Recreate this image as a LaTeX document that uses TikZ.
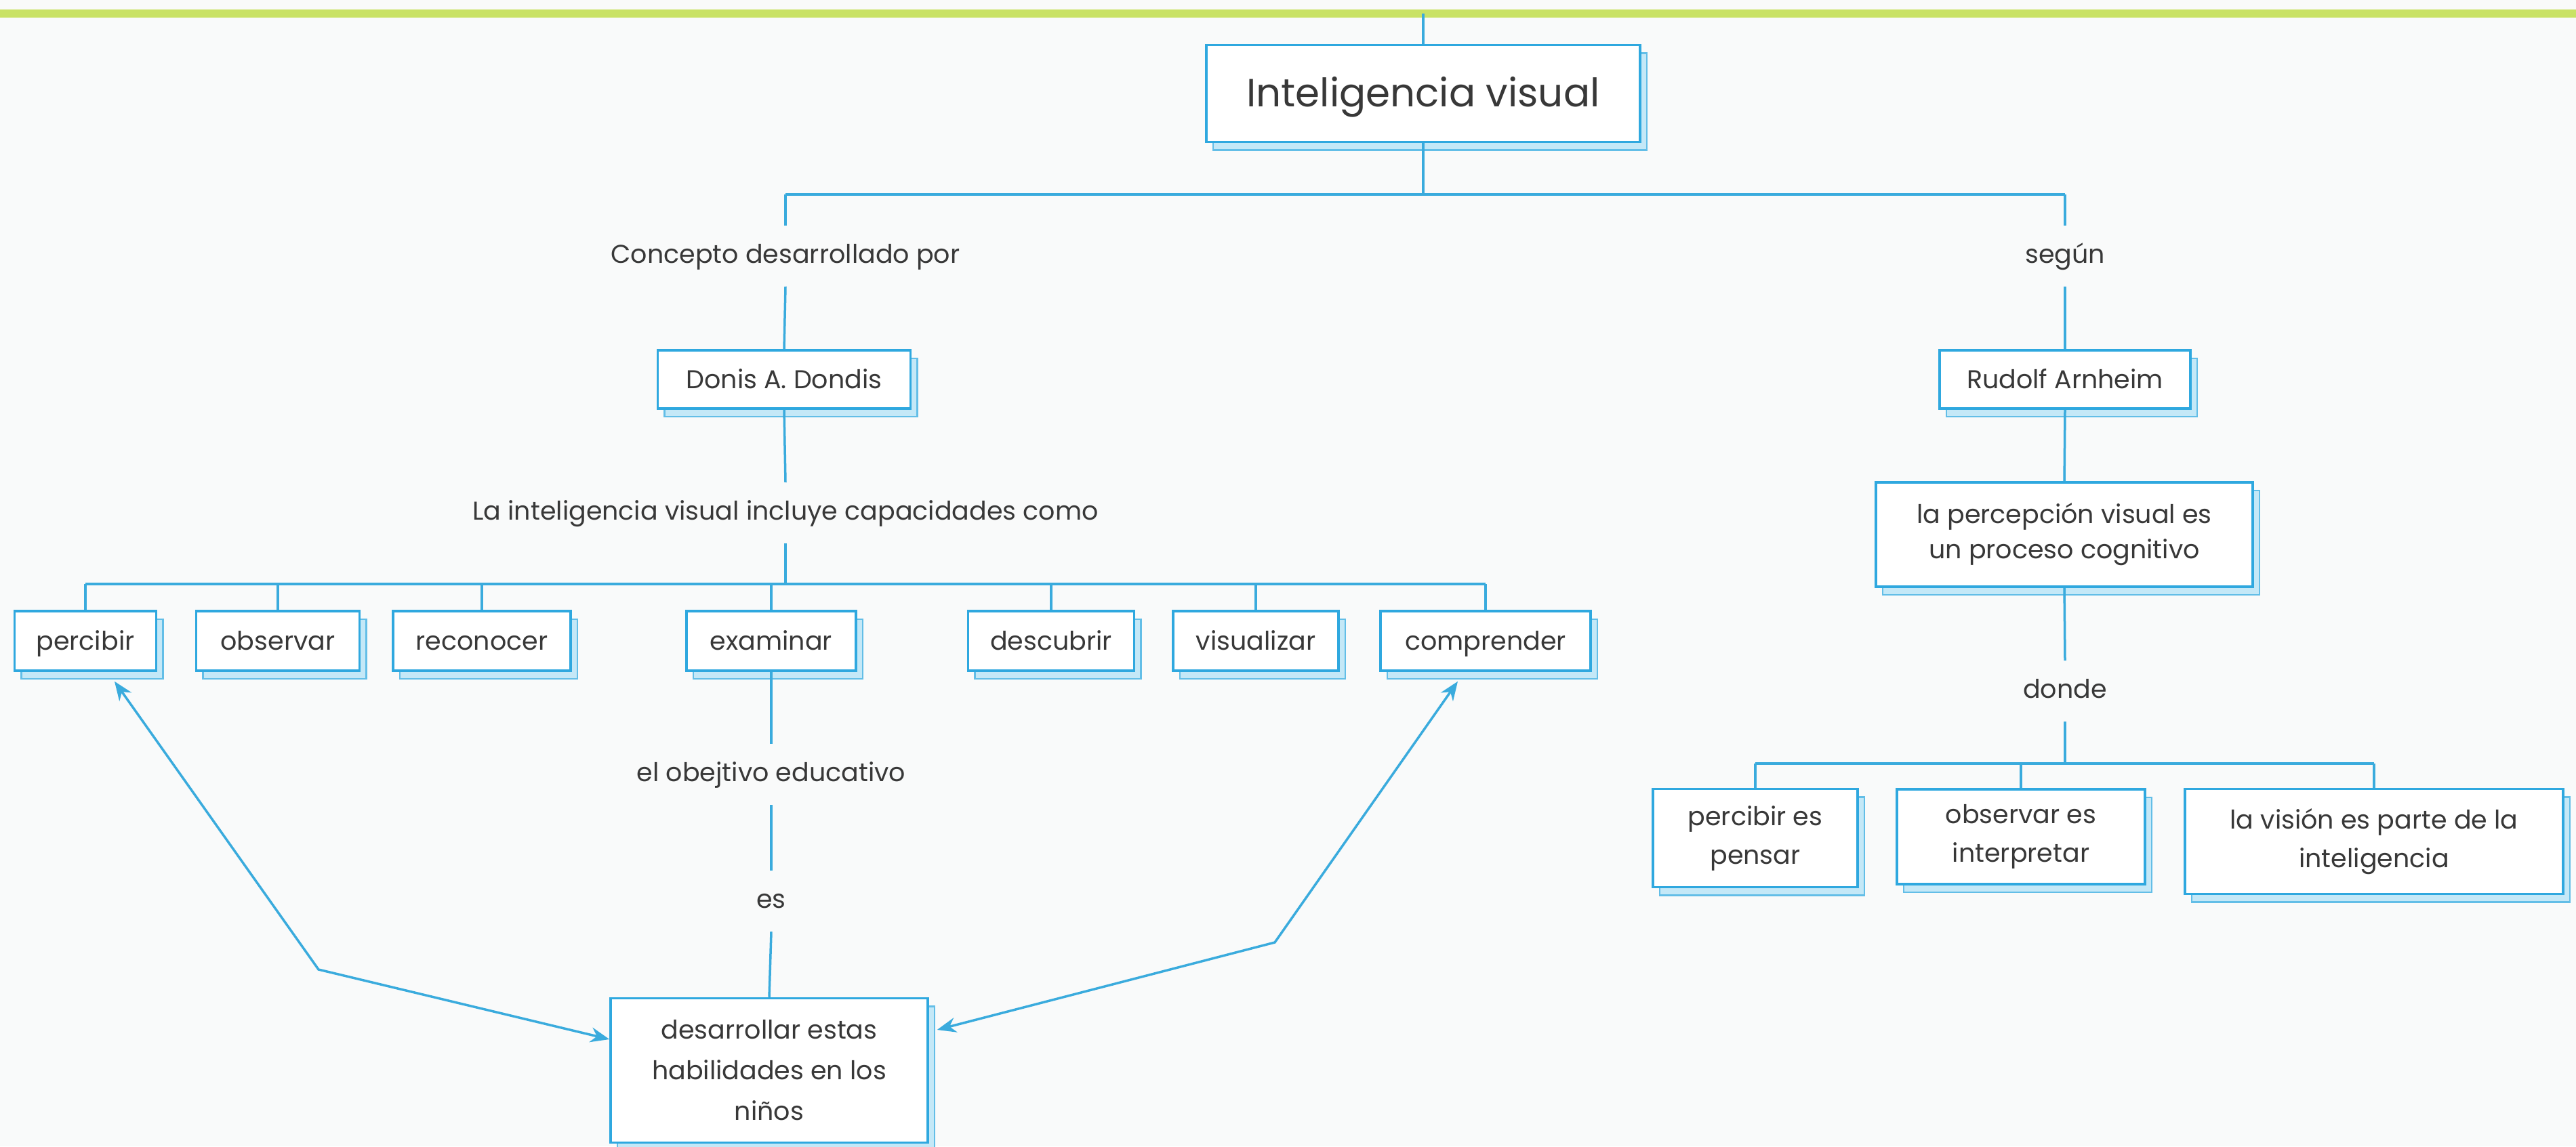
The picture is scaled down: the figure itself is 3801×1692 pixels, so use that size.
\documentclass[tikz,border=0pt]{standalone}
\usepackage{fontspec}
\setmainfont{Poppins}
\usetikzlibrary{arrows.meta,shadows,calc}
\definecolor{cBlue}{HTML}{2FA8DF}
\definecolor{cLine}{HTML}{3AABDD}
\definecolor{cShadow}{HTML}{C4E8F7}
\definecolor{cText}{HTML}{383838}
\definecolor{cBg}{HTML}{F9FAFA}
\definecolor{cGreen}{HTML}{C9E265}
\begin{document}
\begin{tikzpicture}[x=1pt,y=-1pt,
  box/.style={draw=cBlue, line width=3.5pt, fill=white, inner sep=0pt, align=center,
    text=cText, font=\fontsize{38}{57}\selectfont,
    copy shadow={shadow xshift=10pt, shadow yshift=-12pt, fill=cShadow, draw=cBlue!75, line width=2.5pt}},
  one/.style={text height=28pt, text depth=2pt},
  lbl/.style={text=cText, font=\fontsize{38}{46}\selectfont, inner xsep=6pt, inner ysep=27pt,
    text height=28pt, text depth=8pt},
  con/.style={draw=cLine, line width=3.5pt},
  arr/.style={con, {Stealth[length=28pt,width=22pt]}-{Stealth[length=28pt,width=22pt]}}]
\useasboundingbox (0,0) rectangle (3801,1692);
\fill[cBg] (0,0) rectangle (3801,1692);
\draw[cGreen, line width=12pt] (0,20) -- (3801,20);
\coordinate (gtop) at (2100,20);

% main
\node[box, minimum width=640pt, minimum height=143pt, font=\fontsize{58}{66}\selectfont, text height=42pt, text depth=4pt] (title) at (2100,138) {Inteligencia visual};
\coordinate (t1) at (1159,287);
\coordinate (t2) at (3047,287);
\node[lbl] (lc) at (1159,378) {Concepto desarrollado por};
\node[lbl] (ls) at (3047,378) {según};
\node[box, one, minimum width=373pt, minimum height=86pt] (donis) at (1157,560) {Donis A. Dondis};
\node[box, one, minimum width=370pt, minimum height=86pt] (rudolf) at (3047,560) {Rudolf Arnheim};

% left
\node[lbl] (li) at (1159,757) {La inteligencia visual incluye capacidades como};
\coordinate (b1) at (126,862);
\coordinate (b2) at (2192,862);
\node[box, one, minimum width=209pt, minimum height=88pt] (percibir) at (126,946) {percibir};
\node[box, one, minimum width=241pt, minimum height=88pt] (observar) at (410,946) {observar};
\node[box, one, minimum width=262pt, minimum height=88pt] (reconocer) at (711,946) {reconocer};
\node[box, one, minimum width=250pt, minimum height=88pt] (examinar) at (1138,946) {examinar};
\node[box, one, minimum width=245pt, minimum height=88pt] (descubrir) at (1551,946) {descubrir};
\node[box, one, minimum width=244pt, minimum height=88pt] (visualizar) at (1853,946) {visualizar};
\node[box, one, minimum width=310pt, minimum height=88pt] (comprender) at (2192,946) {comprender};
\node[lbl] (obj) at (1138,1143) {el obejtivo educativo};
\node[lbl] (es) at (1138,1330) {es};
\node[box, minimum width=468pt, minimum height=213pt, font=\fontsize{38}{60}\selectfont] (desa) at (1135,1580) {desarrollar estas\\habilidades en los\\niños};
\coordinate (bl) at (470,1431);
\coordinate (br) at (1881,1391);

% right
\node[box, minimum width=556pt, minimum height=154pt, font=\fontsize{38}{52}\selectfont] (perc) at (3046,789) {la percepción visual es\\un proceso cognitivo};
\node[lbl] (donde) at (3047,1020) {donde};
\coordinate (r1) at (2590,1127);
\coordinate (r2) at (3503,1127);
\node[box, minimum width=302pt, minimum height=145pt] (pensar) at (2590,1237) {percibir es\\pensar};
\node[box, minimum width=366pt, minimum height=140pt] (interp) at (2982,1235) {observar es\\interpretar};
\node[box, minimum width=558pt, minimum height=155pt] (vision) at (3503,1242) {la visión es parte de la\\inteligencia};

% connectors
\draw[con] (gtop) -- (title.north);
\draw[con] (title.south) -- (title.south |- t1);
\draw[con] (t1) -- (t2);
\draw[con] (t1) -- (lc.north);
\draw[con] (lc.south) -- (donis.north);
\draw[con] (t2) -- (ls.north);
\draw[con] (ls.south) -- (rudolf.north);

\draw[con] (donis.south) -- (li.north);
\draw[con] (li.south) -- (li.south |- b1);
\draw[con] (b1) -- (b2);
\foreach \n in {percibir,observar,reconocer,examinar,descubrir,visualizar,comprender}
  \draw[con] (\n.north |- b1) -- (\n.north);
\draw[con] (examinar.south) -- (obj.north);
\draw[con] (obj.south) -- (es.north);
\draw[con] (es.south) -- (desa.north);
\draw[arr] ([xshift=43pt,yshift=-14pt]percibir.south) -- (bl) -- ([yshift=46pt]desa.west);
\draw[arr] ([xshift=-41pt,yshift=-14pt]comprender.south) -- (br) -- ([xshift=12pt,yshift=60pt]desa.east);

\draw[con] (rudolf.south) -- (perc.north);
\draw[con] (perc.south) -- (donde.north);
\draw[con] (donde.south) -- (donde.south |- r1);
\draw[con] (r1) -- (r2);
\foreach \n in {pensar,interp,vision}
  \draw[con] (\n.north |- r1) -- (\n.north);
\end{tikzpicture}
\end{document}
